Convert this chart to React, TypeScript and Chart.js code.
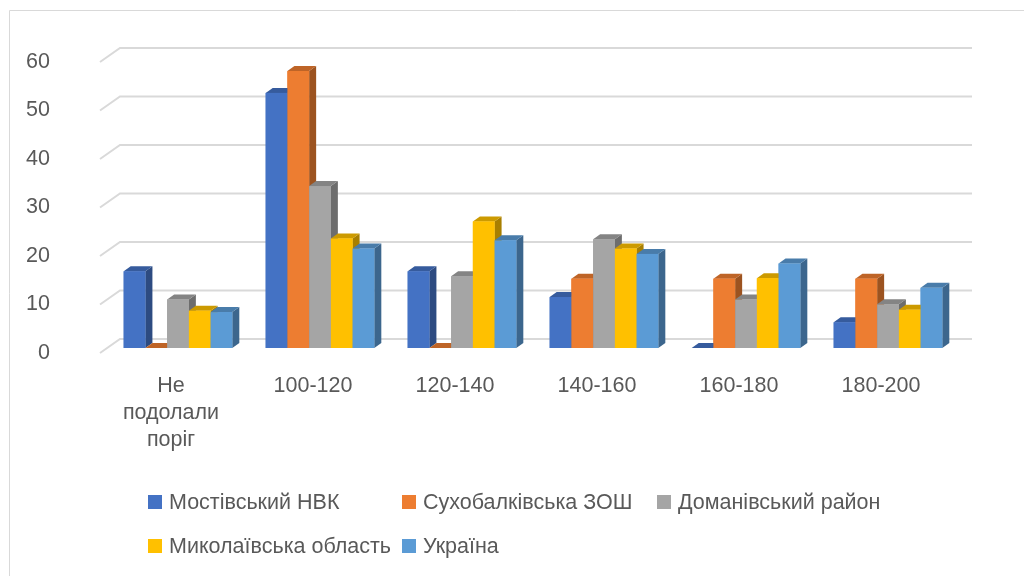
import React, { useEffect, useRef } from "react";
import { Chart, registerables } from "chart.js";

Chart.register(...registerables);

const categories: (string | string[])[] = [
  ["Не", "подолали", "поріг"],
  "100-120",
  "120-140",
  "140-160",
  "160-180",
  "180-200",
];

const seriesNames = [
  "Мостівський НВК",
  "Сухобалківська ЗОШ",
  "Доманівський район",
  "Миколаївська область",
  "Україна",
];

const mostivskyi = [15.8, 52.6, 15.8, 10.5, 0, 5.3];
const sukhobalkivska = [0, 57.1, 0, 14.3, 14.3, 14.3];
const domanivskyi = [10, 33.4, 14.8, 22.4, 10, 9];
const mykolaivska = [7.7, 22.6, 26.1, 20.5, 14.4, 7.9];
const ukraina = [7.4, 20.5, 22.2, 19.4, 17.4, 12.4];

const yTicks = [0, 10, 20, 30, 40, 50, 60];

const COLORS = ["#4472C4", "#ED7D31", "#A5A5A5", "#FFC000", "#5B9BD5"];
const FONT = "'Liberation Sans', Arial, sans-serif";
const TEXT = "#595959";
const GRID = "#d9d9d9";
const DX = 7;
const DY = 5;

function shade(hex: string, f: number): string {
  const n = parseInt(hex.slice(1), 16);
  const r = Math.round(((n >> 16) & 255) * f);
  const g = Math.round(((n >> 8) & 255) * f);
  const b = Math.round((n & 255) * f);
  return `rgb(${r},${g},${b})`;
}

const frameAndGrid = {
  id: "frameAndGrid",
  beforeDatasetsDraw(chart: any) {
    const ctx = chart.ctx;
    const y = chart.scales.y;
    ctx.save();
    // outer frame
    ctx.strokeStyle = GRID;
    ctx.lineWidth = 1;
    ctx.beginPath();
    ctx.moveTo(9.5, 576);
    ctx.lineTo(9.5, 10.5);
    ctx.lineTo(1024, 10.5);
    ctx.stroke();
    // back-wall gridlines with perspective floor edge
    ctx.strokeStyle = GRID;
    ctx.lineWidth = 2;
    yTicks.forEach((v) => {
      const py = y.getPixelForValue(v);
      ctx.beginPath();
      ctx.moveTo(100, py + 5);
      ctx.lineTo(120, py - 9);
      ctx.lineTo(972, py - 9);
      ctx.stroke();
    });
    ctx.restore();
  },
};

const bars3d = {
  id: "bars3d",
  afterDatasetsDraw(chart: any) {
    const ctx = chart.ctx;
    const metas = chart.data.datasets.map((_: any, i: number) => chart.getDatasetMeta(i));
    const n = chart.data.labels.length;
    ctx.save();
    for (let j = 0; j < n; j++) {
      metas.forEach((meta: any, di: number) => {
        const el = meta.data[j];
        if (!el) return;
        const c = COLORS[di];
        const left = el.x - el.width / 2;
        const right = el.x + el.width / 2;
        const top = el.y;
        const base = el.base;
        // side face
        ctx.fillStyle = shade(c, 0.66);
        ctx.beginPath();
        ctx.moveTo(right, top);
        ctx.lineTo(right + DX, top - DY);
        ctx.lineTo(right + DX, base - DY);
        ctx.lineTo(right, base);
        ctx.closePath();
        ctx.fill();
        // top face
        ctx.fillStyle = shade(c, 0.8);
        ctx.beginPath();
        ctx.moveTo(left, top);
        ctx.lineTo(left + DX, top - DY);
        ctx.lineTo(right + DX, top - DY);
        ctx.lineTo(right, top);
        ctx.closePath();
        ctx.fill();
        // front face
        ctx.fillStyle = c;
        ctx.fillRect(left, top, right - left, base - top);
      });
    }
    ctx.restore();
  },
};

const legendGrid = {
  id: "legendGrid",
  afterDraw(chart: any) {
    const ctx = chart.ctx;
    const cols = [148, 402, 657];
    const rows = [502, 546];
    ctx.save();
    ctx.font = `21.5px ${FONT}`;
    ctx.textBaseline = "middle";
    ctx.textAlign = "left";
    chart.data.datasets.forEach((ds: any, i: number) => {
      const x = cols[i % 3];
      const yy = rows[Math.floor(i / 3)];
      ctx.fillStyle = ds.backgroundColor;
      ctx.fillRect(x, yy - 7, 14, 14);
      ctx.fillStyle = TEXT;
      ctx.fillText(ds.label, x + 21, yy + 1);
    });
    ctx.restore();
  },
};

export default function App() {
  const ref = useRef<HTMLCanvasElement>(null);
  useEffect(() => {
    if (!ref.current) return;
    const values = [mostivskyi, sukhobalkivska, domanivskyi, mykolaivska, ukraina];
    const chart = new Chart(ref.current, {
      type: "bar",
      data: {
        labels: categories,
        datasets: values.map((d, i) => ({
          label: seriesNames[i],
          data: d,
          backgroundColor: COLORS[i],
          borderWidth: 0,
          barPercentage: 1,
          categoryPercentage: 0.765,
        })),
      },
      options: {
        animation: false,
        responsive: true,
        maintainAspectRatio: false,
        layout: { padding: { left: 0, right: 65, top: 57, bottom: 0 } },
        plugins: {
          legend: { display: false },
          tooltip: { enabled: false },
        },
        scales: {
          x: {
            grid: { display: false, drawTicks: false },
            border: { display: false },
            ticks: {
              color: TEXT,
              font: { family: FONT, size: 21.5, lineHeight: 1.25 },
              padding: 25,
              labelOffset: -7,
              maxRotation: 0,
              autoSkip: false,
            },
            afterFit: (s: any) => {
              s.height = 228;
              s.paddingLeft = 0;
              s.paddingRight = 0;
            },
          },
          y: {
            min: 0,
            max: 60,
            grid: { display: false, drawTicks: false },
            border: { display: false },
            ticks: {
              stepSize: 10,
              color: TEXT,
              font: { family: FONT, size: 21.5 },
              padding: 57,
              labelOffset: 5,
            },
            afterFit: (s: any) => {
              s.width = 107;
              s.paddingTop = 0;
              s.paddingBottom = 0;
            },
          },
        },
      },
      plugins: [frameAndGrid, bars3d, legendGrid],
    });
    return () => chart.destroy();
  }, []);
  return (
    <div style={{ position: "fixed", left: 0, top: 0, width: 1024, height: 576, background: "#fff" }}>
      <canvas ref={ref} />
    </div>
  );
}
